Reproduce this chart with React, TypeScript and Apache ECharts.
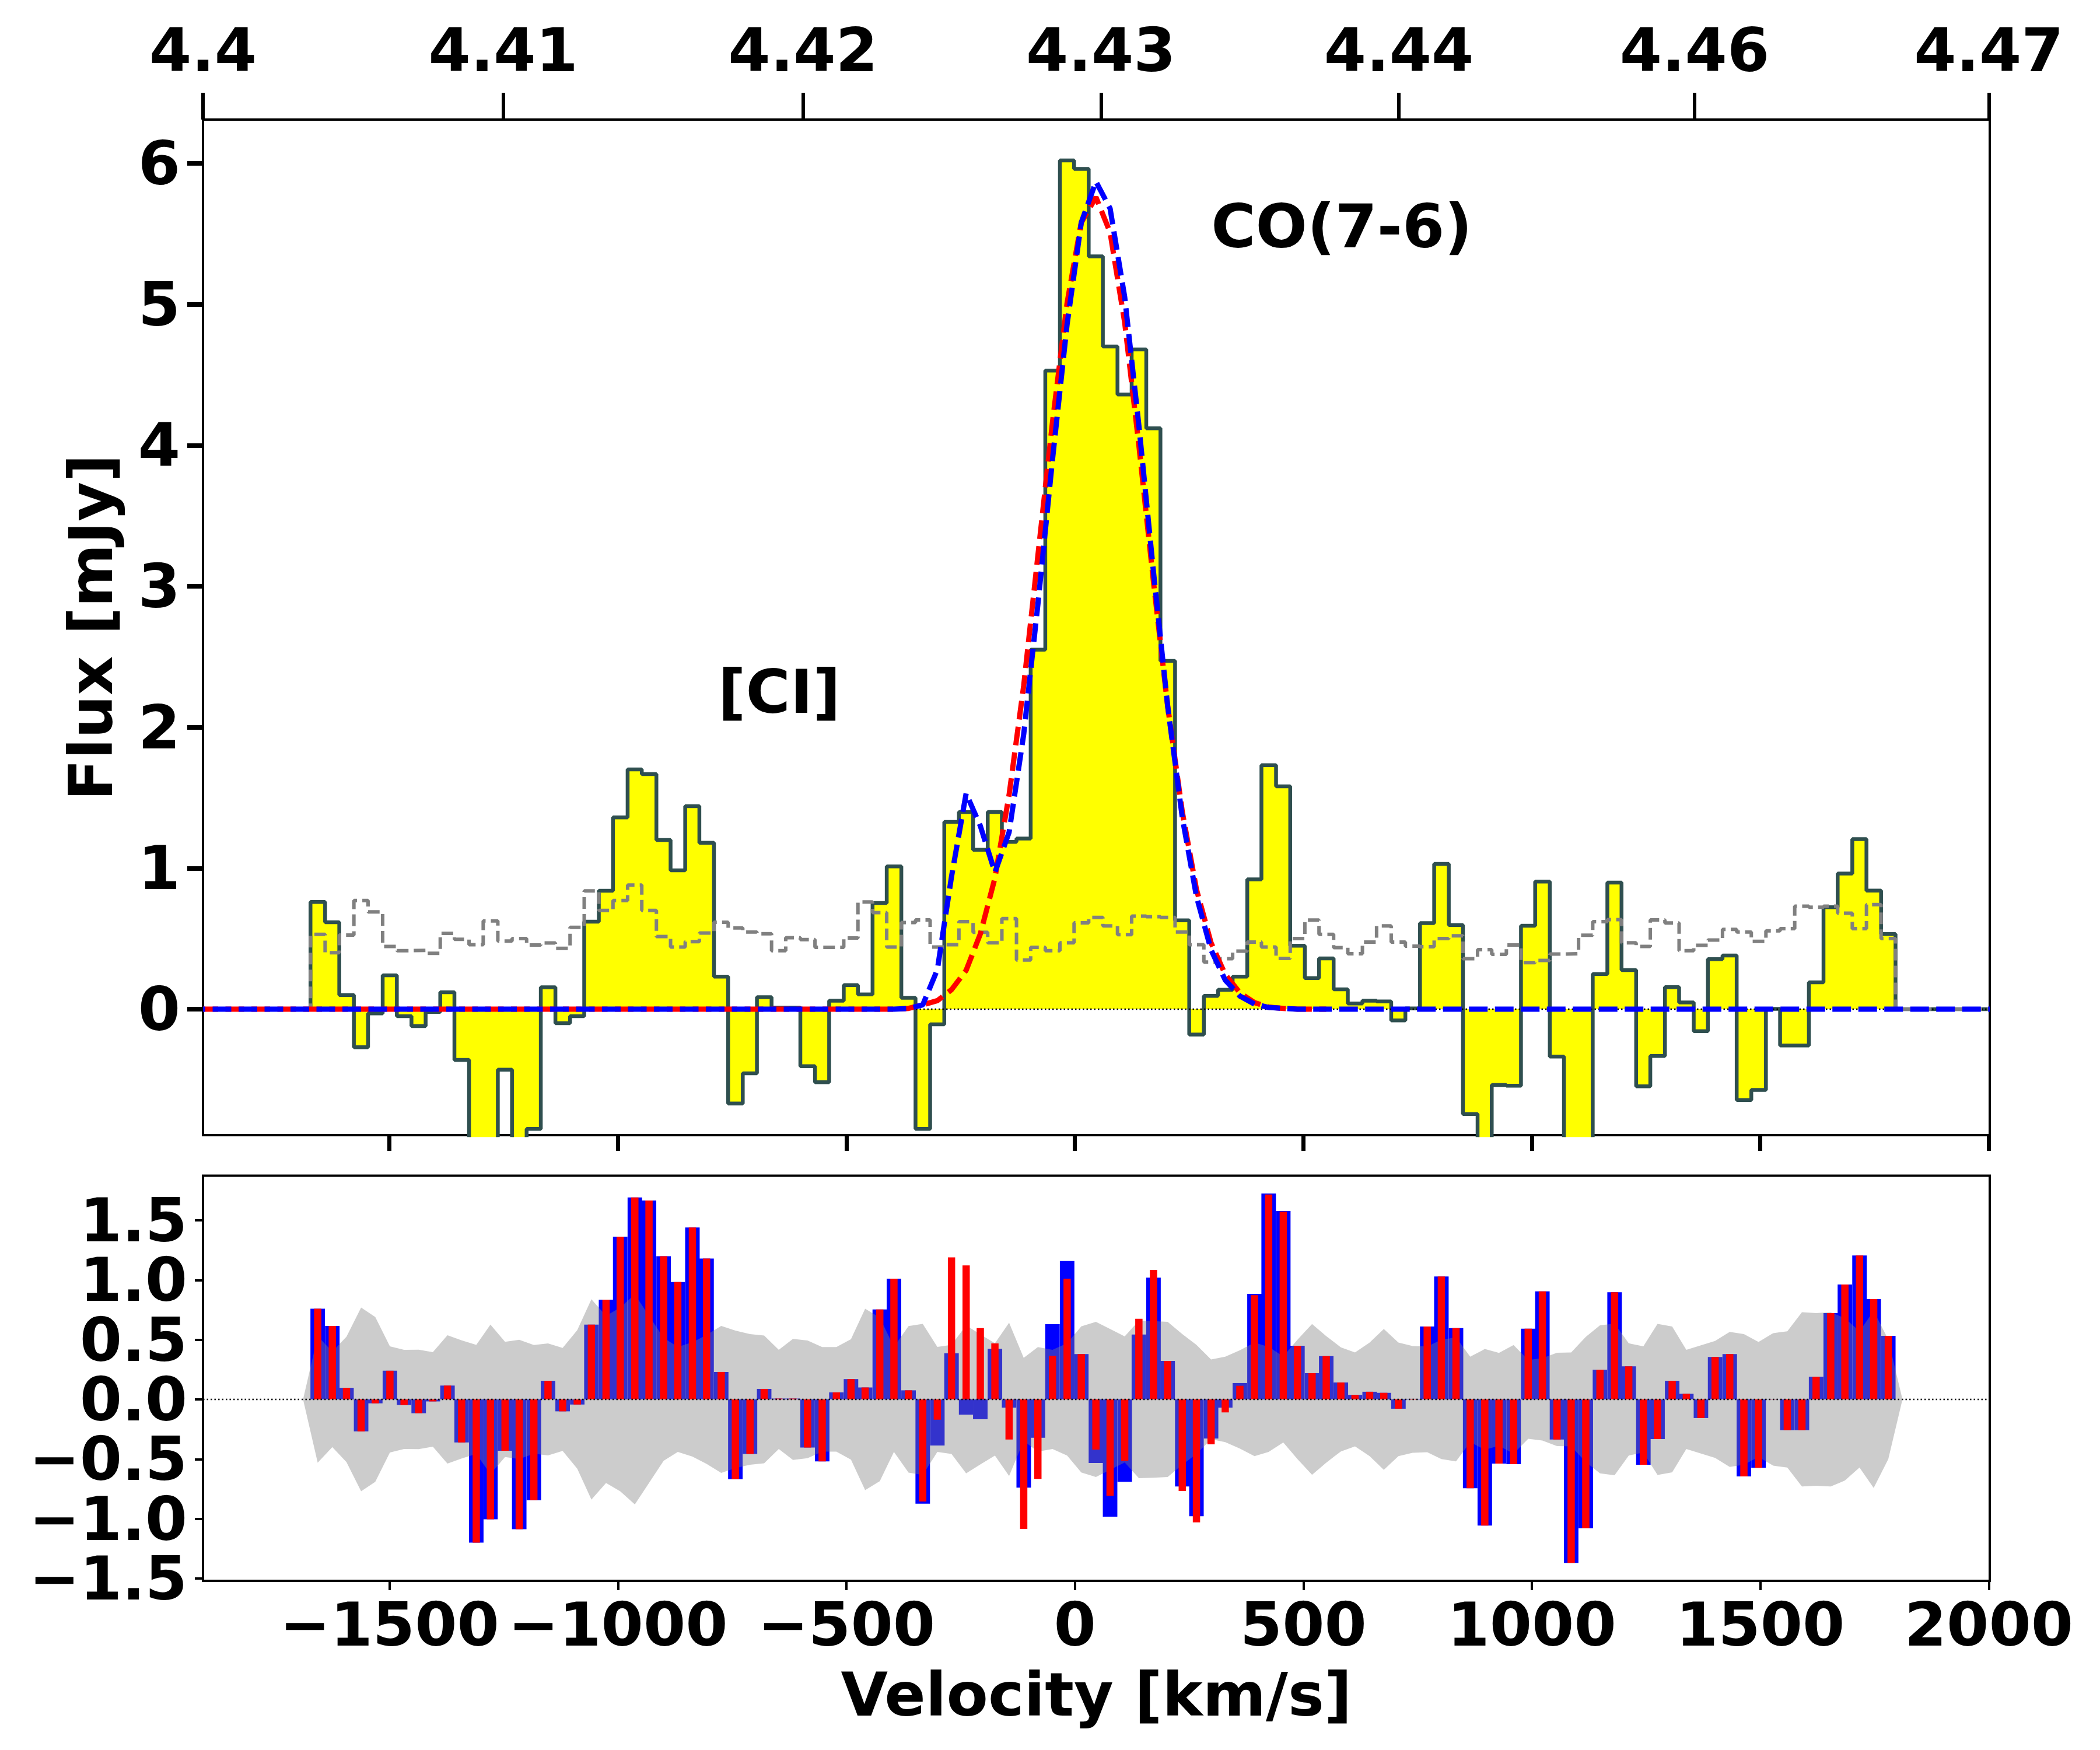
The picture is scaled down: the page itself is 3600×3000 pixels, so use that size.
import React, { useEffect, useRef } from "react";
import * as echarts from "echarts";

const binCenters = [-1657,-1625,-1594,-1562,-1531,-1499,-1468,-1436,-1405,-1373,-1342,-1310,-1279,-1247,-1216,-1184,-1153,-1121,-1089,-1058,-1026,-995,-963,-932,-900,-869,-837,-806,-774,-743,-711,-680,-648,-617,-585,-553,-522,-490,-459,-427,-396,-364,-333,-301,-270,-238,-207,-175,-144,-112,-81,-49,-17,14,46,77,109,140,172,203,235,266,298,329,361,393,424,456,487,519,550,582,613,645,676,708,739,771,802,834,865,897,928,960,992,1023,1055,1086,1118,1149,1181,1212,1244,1275,1307,1338,1370,1401,1433,1464,1496,1528,1559,1591,1622,1654,1685,1717,1748,1780];
const flux = [0.76,0.616,0.1,-0.27,-0.03,0.24,-0.05,-0.12,-0.02,0.12,-0.36,-1.2,-1.0,-0.43,-1.09,-0.85,0.155,-0.1,-0.05,0.62,0.84,1.36,1.7,1.667,1.2,0.985,1.44,1.18,0.23,-0.67,-0.455,0.085,0.01,0.01,-0.405,-0.518,0.06,0.17,0.104,0.753,1.012,0.08,-0.85,-0.108,1.328,1.398,1.13,1.398,1.186,1.21,2.55,4.53,6.02,5.96,5.34,4.7,4.36,4.68,4.12,2.47,0.63,-0.18,0.094,0.137,0.23,0.92,1.73,1.58,0.45,0.22,0.36,0.14,0.04,0.06,0.055,-0.08,0.005,0.61,1.03,0.597,-0.744,-1.057,-0.538,-0.543,0.592,0.905,-0.336,-1.37,-1.08,0.249,0.898,0.277,-0.547,-0.332,0.156,0.047,-0.156,0.355,0.38,-0.645,-0.573,0.002,-0.258,-0.258,0.19,0.723,0.962,1.206,0.841,0.533];
const sigma = [0.53,0.4,0.525,0.77,0.69,0.445,0.415,0.417,0.396,0.538,0.495,0.457,0.626,0.483,0.5,0.455,0.469,0.431,0.58,0.839,0.7,0.77,0.88,0.7,0.515,0.44,0.479,0.54,0.616,0.576,0.547,0.535,0.415,0.507,0.493,0.438,0.438,0.505,0.76,0.685,0.44,0.614,0.633,0.44,0.457,0.62,0.545,0.47,0.642,0.348,0.438,0.415,0.47,0.612,0.65,0.59,0.528,0.66,0.656,0.65,0.547,0.457,0.334,0.358,0.412,0.476,0.44,0.36,0.5,0.632,0.53,0.436,0.393,0.476,0.59,0.476,0.447,0.443,0.5,0.52,0.358,0.422,0.389,0.455,0.33,0.345,0.391,0.393,0.524,0.62,0.635,0.47,0.445,0.633,0.611,0.415,0.453,0.49,0.566,0.547,0.481,0.555,0.571,0.73,0.723,0.73,0.68,0.571,0.742,0.5];
const modelBlue = [0,0,0,0,0,0,0,0,0,0,0,0,0,0,0,0,0,0,0,0,0,0,0,0,0,0,0,0,0,0,0,0,0,0,0,0,0,0,0,0,0,0.005,0.03,0.28,0.94,1.53,1.3,0.97,1.255,1.95,2.87,3.9,4.86,5.58,5.87,5.68,5.05,4.14,3.1,2.15,1.36,0.8,0.42,0.206,0.093,0.036,0.012,0.005,0,0,0,0,0,0,0,0,0,0,0,0,0,0,0,0,0,0,0,0,0,0,0,0,0,0,0,0,0,0,0,0,0,0,0,0,0,0,0,0,0,0];
const modelRed = [0,0,0,0,0,0,0,0,0,0,0,0,0,0,0,0,0,0,0,0,0,0,0,0,0,0,0,0,0,0,0,0,0,0,0,0,0,0,0,0,0,0.005,0.03,0.06,0.138,0.275,0.533,0.93,1.52,2.295,3.216,4.165,5.01,5.58,5.76,5.51,4.87,4.0,3.03,2.15,1.4,0.85,0.47,0.246,0.116,0.046,0.014,0.005,0,0];
const residualBlue = [0.76,0.616,0.097,-0.268,-0.033,0.24,-0.047,-0.116,-0.017,0.116,-0.36,-1.2,-1.005,-0.43,-1.088,-0.844,0.156,-0.1,-0.043,0.626,0.836,1.363,1.692,1.666,1.2,0.983,1.44,1.18,0.23,-0.668,-0.457,0.088,0.007,0.007,-0.403,-0.519,0.059,0.17,0.1,0.754,1.012,0.076,-0.874,-0.386,0.386,-0.128,-0.166,0.424,-0.069,-0.739,-0.322,0.63,1.159,0.38,-0.533,-0.983,-0.69,0.543,1.02,0.322,-0.73,-0.979,-0.327,-0.069,0.137,0.884,1.725,1.578,0.45,0.22,0.363,0.142,0.038,0.064,0.055,-0.078,0.005,0.611,1.03,0.597,-0.744,-1.057,-0.538,-0.543,0.592,0.905,-0.336,-1.37,-1.08,0.249,0.898,0.277,-0.547,-0.332,0.156,0.047,-0.156,0.355,0.38,-0.645,-0.573,0.002,-0.258,-0.258,0.19,0.723,0.962,1.206,0.841,0.533];
const residualRed = [0.76,0.616,0.097,-0.268,-0.033,0.24,-0.047,-0.116,-0.017,0.116,-0.36,-1.2,-1.005,-0.43,-1.088,-0.844,0.156,-0.1,-0.043,0.626,0.836,1.363,1.692,1.666,1.2,0.983,1.44,1.18,0.23,-0.668,-0.457,0.088,0.007,0.007,-0.403,-0.519,0.059,0.17,0.1,0.754,1.012,0.076,-0.855,-0.17,1.19,1.123,0.597,0.469,-0.336,-1.085,-0.666,0.365,1.012,0.38,-0.42,-0.808,-0.514,0.675,1.085,0.322,-0.768,-1.03,-0.377,-0.109,0.114,0.874,1.716,1.573,0.45,0.22,0.363,0.142,0.038,0.064,0.055,-0.078,0.005,0.611,1.03,0.597,-0.744,-1.057,-0.538,-0.543,0.592,0.905,-0.336,-1.37,-1.08,0.249,0.898,0.277,-0.547,-0.332,0.156,0.047,-0.156,0.355,0.38,-0.645,-0.573,0.002,-0.258,-0.258,0.19,0.723,0.962,1.206,0.841,0.533];
const bandStart = -1689;
const bandEnd = 1811;
const redshiftLabels = ["4.4","4.41","4.42","4.43","4.44","4.46","4.47"];
const redshiftTicks = [-1908,-1251,-595,57,709,1356,2000];
const velocityTicks = [-1500,-1000,-500,0,500,1000,1500,2000];
const fluxTicks = [0,1,2,3,4,5,6];
const residualTicks = [-1.5,-1,-0.5,0,0.5,1,1.5];
const residualLabelsOdd = [-1.5,-0.5,0.5,1.5];
const residualLabelsEven = [-1,0,1];

const X_MIN = -1908, X_MAX = 2002;
const R_MIN = -1.52, R_MAX = 1.874;
const FONT = "DejaVu Sans";
const labelStyle = { fontFamily: FONT, fontWeight: "bold" as const, fontSize: 104, color: "#000" };
const hiddenLine = { show: false, onZero: false };
const residualFormatter = (v: number) => v.toFixed(1).replace("-", "\u2212");

export default function App() {
  const ref = useRef<HTMLDivElement>(null);
  useEffect(() => {
    const chart = echarts.init(ref.current!, null, { renderer: "svg" });
    const halfBin = 15.8;
    const edges = binCenters.map((c) => c - halfBin);
    const lastEdge = binCenters[binCenters.length - 1] + halfBin;
    const stepped = (vals: number[]) => [
      [X_MIN, 0],
      [edges[0], 0],
      ...vals.map((v, i) => [edges[i], v]),
      [lastEdge, 0],
      [X_MAX, 0],
    ];
    const modelLine = (vals: number[], end: number) => [
      [X_MIN, 0],
      ...vals.map((v, i) => [binCenters[i], v]),
      [end, 0],
    ];
    const band = (sign: number) => [
      [bandStart, 0],
      ...sigma.map((s, i) => [binCenters[i], sign * s]),
      [bandEnd, 0],
    ];
    const bars = (vals: number[]) => vals.map((v, i) => [binCenters[i], v]);
    const commonLine = { type: "line", symbol: "none", silent: true, xAxisIndex: 0, yAxisIndex: 0 };
    const grey = { color: "#808080" };

    chart.setOption({
      animation: false,
      backgroundColor: "#fff",
      grid: [
        { left: 348, top: 205, width: 3063, height: 1741, show: true, borderColor: "#000", borderWidth: 4, backgroundColor: "transparent" },
        { left: 348, top: 2015.5, width: 3063, height: 694.5, show: true, borderColor: "#000", borderWidth: 4, backgroundColor: "transparent" },
      ],
      xAxis: [
        {
          type: "value", gridIndex: 0, min: X_MIN, max: X_MAX, position: "bottom",
          splitLine: { show: false }, axisLine: hiddenLine,
          axisTick: { show: true, length: 27, lineStyle: { width: 7, color: "#000" }, customValues: velocityTicks },
          axisLabel: { show: false },
        },
        {
          type: "value", gridIndex: 0, min: X_MIN, max: X_MAX, position: "top",
          splitLine: { show: false }, axisLine: hiddenLine,
          axisTick: { show: true, length: 46, lineStyle: { width: 6, color: "#000" }, customValues: redshiftTicks },
          axisLabel: {
            ...labelStyle, show: true, margin: 67, customValues: redshiftTicks, hideOverlap: false,
            showMinLabel: true, showMaxLabel: true,
            formatter: (v: number) => redshiftLabels[redshiftTicks.indexOf(v)] ?? "",
          },
        },
        {
          type: "value", gridIndex: 1, min: X_MIN, max: X_MAX, position: "bottom",
          splitLine: { show: false }, axisLine: hiddenLine,
          axisTick: { show: true, length: 16, lineStyle: { width: 4, color: "#000" }, customValues: velocityTicks },
          axisLabel: {
            ...labelStyle, show: true, margin: 23, customValues: velocityTicks, hideOverlap: false,
            showMinLabel: true, showMaxLabel: true,
            formatter: (v: number) => String(v).replace("-", "\u2212"),
          },
          name: "Velocity [km/s]", nameLocation: "middle", nameGap: 143,
          nameTextStyle: { ...labelStyle },
        },
        {
          type: "value", gridIndex: 1, min: X_MIN, max: X_MAX, show: false,
        },
      ],
      yAxis: [
        {
          type: "value", gridIndex: 0, min: -0.894, max: 6.31,
          splitLine: { show: false }, axisLine: hiddenLine,
          axisTick: { show: true, length: 27, lineStyle: { width: 8, color: "#000" }, customValues: fluxTicks },
          axisLabel: { ...labelStyle, show: true, margin: 39, customValues: fluxTicks, hideOverlap: false },
          name: "Flux [mJy]", nameLocation: "middle", nameGap: 140, nameRotate: 90,
          nameTextStyle: { ...labelStyle },
        },
        {
          type: "value", gridIndex: 1, min: R_MIN, max: R_MAX, position: "left",
          splitLine: { show: false }, axisLine: hiddenLine,
          axisTick: { show: true, length: 14, lineStyle: { width: 4, color: "#000" }, customValues: residualTicks },
          axisLabel: {
            ...labelStyle, show: true, margin: 27, customValues: residualLabelsOdd, hideOverlap: false,
            showMinLabel: true, showMaxLabel: true, formatter: residualFormatter,
          },
        },
        {
          type: "value", gridIndex: 1, min: R_MIN, max: R_MAX, position: "left",
          splitLine: { show: false }, axisLine: hiddenLine, axisTick: { show: false },
          axisLabel: {
            ...labelStyle, show: true, margin: 27, customValues: residualLabelsEven, hideOverlap: false,
            showMinLabel: true, showMaxLabel: true, formatter: residualFormatter,
          },
        },
      ],
      series: [
        {
          ...commonLine, name: "flux", step: "end", data: stepped(flux), z: 2,
          lineStyle: { color: "#2F4F4F", width: 6.5 }, itemStyle: { color: "#2F4F4F" },
          areaStyle: { color: "#FFFF00", opacity: 1, origin: 0 },
        },
        {
          ...commonLine, name: "zero", data: [[X_MIN, 0], [X_MAX, 0]], z: 3,
          lineStyle: { color: "#000", width: 2.5, type: [2.5, 4] }, itemStyle: { color: "#000" },
        },
        {
          ...commonLine, name: "noise", step: "end", data: stepped(sigma), z: 4,
          lineStyle: { ...grey, width: 6, type: [20, 9] }, itemStyle: grey,
        },
        {
          ...commonLine, name: "model red", data: modelLine(modelRed, binCenters[modelRed.length]), z: 5,
          lineStyle: { color: "#FF0000", width: 9, type: [32, 12.5], dashOffset: 6 }, itemStyle: { color: "#FF0000" },
        },
        {
          ...commonLine, name: "model blue", data: modelLine(modelBlue, X_MAX), z: 6,
          lineStyle: { color: "#0000FF", width: 9, type: [32, 12.5], dashOffset: 28 }, itemStyle: { color: "#0000FF" },
        },
        {
          type: "bar", name: "residual blue", xAxisIndex: 2, yAxisIndex: 1, data: bars(residualBlue), barWidth: 24.9, z: 2,
          itemStyle: { color: "#0000FF" }, silent: true,
        },
        {
          type: "line", name: "band up", xAxisIndex: 2, yAxisIndex: 1, symbol: "none", silent: true, data: band(1), z: 3,
          lineStyle: { width: 0, opacity: 0 }, areaStyle: { color: "#808080", opacity: 0.4, origin: 0 },
        },
        {
          type: "line", name: "band down", xAxisIndex: 2, yAxisIndex: 1, symbol: "none", silent: true, data: band(-1), z: 3,
          lineStyle: { width: 0, opacity: 0 }, areaStyle: { color: "#808080", opacity: 0.4, origin: 0 },
        },
        {
          type: "bar", name: "residual red", xAxisIndex: 3, yAxisIndex: 2, data: bars(residualRed), barWidth: 12.5, z: 4,
          itemStyle: { color: "#FF0000" }, silent: true,
        },
        {
          type: "line", name: "zero2", xAxisIndex: 2, yAxisIndex: 1, symbol: "none", silent: true, data: [[X_MIN, 0], [X_MAX, 0]], z: 5,
          lineStyle: { color: "#000", width: 2.5, type: [2.5, 4] }, itemStyle: { color: "#000" },
        },
      ],
      graphic: [
        { type: "text", x: 2300, y: 388, z: 20, style: { text: "CO(7-6)", fill: "#000", font: `bold 104px "${FONT}"`, align: "center", verticalAlign: "middle" } },
        { type: "text", x: 1336, y: 1186, z: 20, style: { text: "[CI]", fill: "#000", font: `bold 104px "${FONT}"`, align: "center", verticalAlign: "middle" } },
      ],
    });
    return () => chart.dispose();
  }, []);
  return <div ref={ref} style={{ position: "absolute", left: 0, top: 0, width: 3600, height: 3000 }} />;
}
